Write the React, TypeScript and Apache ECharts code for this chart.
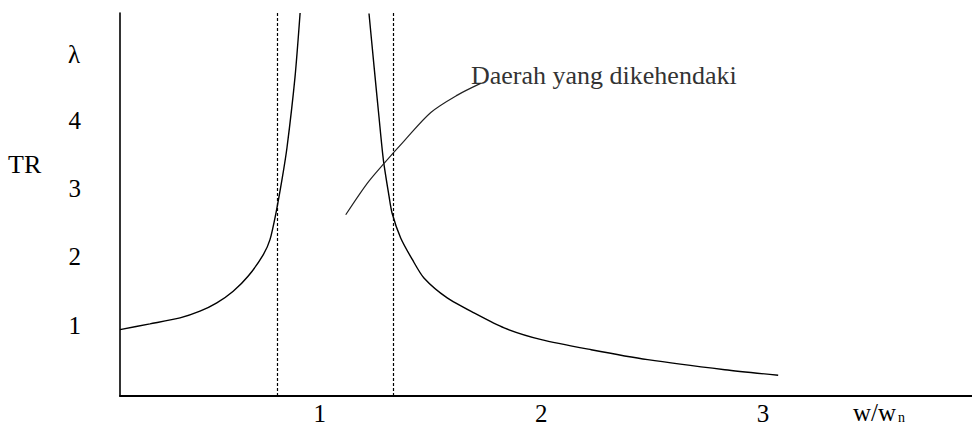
import React, { useEffect, useRef } from "react";
import * as echarts from "echarts";

// TR curve, branch below resonance (w/wn, TR)
const leftBranch: [number, number][] = [
  [0.098, 0.934], [0.233, 1.018], [0.369, 1.106], [0.459, 1.204], [0.535, 1.326],
  [0.609, 1.497], [0.677, 1.72], [0.745, 2.034], [0.775, 2.254], [0.802, 2.645],
  [0.829, 3.13], [0.852, 3.61], [0.888, 4.64], [0.911, 5.58],
];
// TR curve, branch above resonance
const rightBranch: [number, number][] = [
  [1.222, 5.573], [1.245, 4.79], [1.267, 4.057], [1.287, 3.422], [1.312, 2.9],
  [1.326, 2.645], [1.365, 2.279], [1.418, 1.96], [1.47, 1.692], [1.575, 1.399],
  [1.696, 1.179], [1.832, 0.959], [2.0, 0.787], [2.225, 0.639], [2.48, 0.493],
  [2.828, 0.346], [3.069, 0.264],
];
// annotation leader curve
const leaderCurve: [number, number][] = [
  [1.117, 2.62], [1.214, 3.081], [1.29, 3.374], [1.38, 3.7], [1.501, 4.12],
  [1.621, 4.375], [1.726, 4.547],
];
const dashedX = [0.808, 1.326];
const xTicks = [1, 2, 3];
const yTicks = [1, 2, 3, 4];
const lambdaLabel = "λ";
const annotation = "Daerah yang dikehendaki";

const FONT = "Liberation Serif";

export default function App() {
  const ref = useRef<HTMLDivElement>(null);
  useEffect(() => {
    if (!ref.current) return;
    const chart = echarts.init(ref.current, undefined, { renderer: "svg" });
    chart.setOption({
      animation: false,
      grid: { left: 120, right: 0, top: 13, bottom: 30 },
      xAxis: {
        type: "value",
        min: 0.098,
        max: 3.944,
        axisLine: { show: true, onZero: false, lineStyle: { color: "#000", width: 2 } },
        axisTick: { show: false },
        splitLine: { show: false },
        axisLabel: {
          customValues: xTicks,
          color: "#000",
          fontFamily: FONT,
          fontSize: 25,
          margin: 5,
        },
      },
      yAxis: {
        type: "value",
        min: -0.04,
        max: 5.58,
        axisLine: { show: true, onZero: false, lineStyle: { color: "#000", width: 1.6 } },
        axisTick: { show: false },
        splitLine: { show: false },
        axisLabel: {
          customValues: yTicks,
          color: "#000",
          fontFamily: FONT,
          fontSize: 25,
          margin: 39,
        },
      },
      series: [
        {
          type: "line",
          symbol: "none",
          data: leftBranch,
          smooth: 0.25,
          lineStyle: { color: "#000", width: 1.4 },
          markLine: {
            symbol: "none",
            silent: true,
            label: { show: false },
            lineStyle: { color: "#000", width: 1.2, type: [3, 2] },
            data: dashedX.map((x) => ({ xAxis: x })),
          },
        },
        {
          type: "line",
          symbol: "none",
          data: rightBranch,
          smooth: 0.25,
          lineStyle: { color: "#000", width: 1.4 },
        },
        {
          type: "line",
          symbol: "none",
          data: leaderCurve,
          smooth: 0.3,
          lineStyle: { color: "#222", width: 1.2 },
        },
      ],
      graphic: [
        {
          type: "text",
          x: 68,
          y: 42,
          style: { text: lambdaLabel, fontFamily: FONT, fontSize: 25, fill: "#000" },
        },
        {
          type: "text",
          x: 8,
          y: 151,
          style: { text: "TR", fontFamily: FONT, fontSize: 26, fill: "#000" },
        },
        {
          type: "text",
          x: 471,
          y: 62,
          style: { text: annotation, fontFamily: FONT, fontSize: 26, fill: "#333" },
        },
        {
          type: "text",
          x: 853,
          y: 400,
          style: { text: "w/w", fontFamily: FONT, fontSize: 25, fill: "#000" },
        },
        {
          type: "text",
          x: 898,
          y: 410,
          style: { text: "n", fontFamily: FONT, fontSize: 14, fill: "#000" },
        },
      ],
    });
    return () => chart.dispose();
  }, []);
  return (
    <div>
      <div
        ref={ref}
        style={{ position: "absolute", left: 0, top: 0, width: 972, height: 426 }}
      />
    </div>
  );
}
